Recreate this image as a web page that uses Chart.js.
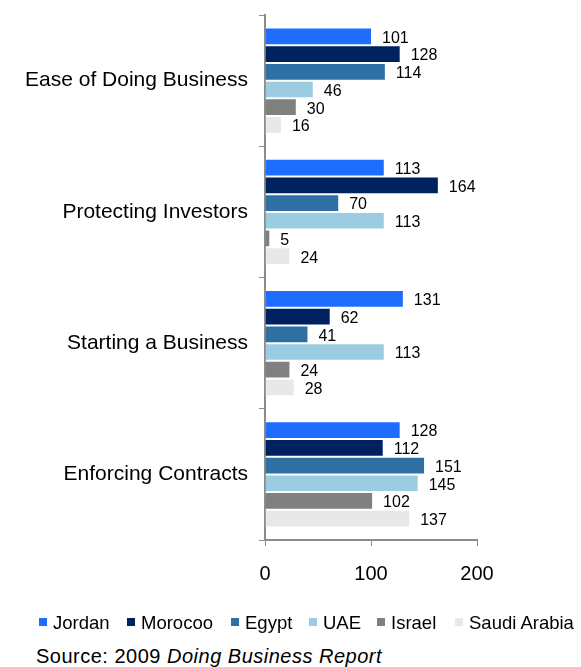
<!DOCTYPE html>
<html>
<head>
<meta charset="utf-8">
<script src="https://cdn.jsdelivr.net/npm/chart.js@4.4.0/dist/chart.umd.min.js"></script>
<style>
  html, body { margin: 0; padding: 0; background: #fff; }
  #wrap { position: relative; width: 581px; height: 667px; overflow: hidden; }
  #chart { position: absolute; left: 0; top: 0; }
  .txt { font-family: "Liberation Sans", Arial, sans-serif; color: #000; }
  #legend { position: absolute; left: 0; top: 611px; width: 581px; height: 22px; font-size: 18.5px; line-height: 19px; }
  #legend .item { position: absolute; top: 2px; white-space: nowrap; }
  #legend .box { display: inline-block; width: 8px; height: 8px; margin-right: 6px; vertical-align: 3px; }
  #source { position: absolute; left: 36px; top: 646px; font-size: 20px; line-height: 20px; letter-spacing: 0.5px; white-space: nowrap; }
</style>
</head>
<body>
<div id="wrap">
  <canvas id="chart" width="581" height="620"></canvas>
  <div id="legend" class="txt"></div>
  <div id="source" class="txt">Source: 2009 <i>Doing Business Report</i></div>
</div>
<script>
// 데이터
const categories = ["Ease of Doing Business", "Protecting Investors", "Starting a Business", "Enforcing Contracts"];
const countries = ["Jordan", "Morocoo", "Egypt", "UAE", "Israel", "Saudi Arabia"];
const jordan = [101, 113, 131, 128];
const morocco = [128, 164, 62, 112];
const egypt = [114, 70, 41, 151];
const uae = [46, 113, 113, 145];
const israel = [30, 5, 24, 102];
const saudi = [16, 24, 28, 137];
const xTicks = [0, 100, 200];

const seriesValues = [jordan, morocco, egypt, uae, israel, saudi];
const seriesColors = ["#1f6dff", "#00215f", "#2f70a4", "#9bcce2", "#808080", "#e8e8e8"];
const legendLeft = [39, 127, 231, 309, 377, 455]; // 범례 위치

const FONT = "'Liberation Sans', Arial, sans-serif";

// 막대 오른쪽 값 표시
const valueLabels = {
  id: "valueLabels",
  afterDatasetsDraw(chart) {
    const ctx = chart.ctx;
    ctx.save();
    ctx.font = "16px " + FONT;
    ctx.fillStyle = "#000";
    ctx.textAlign = "left";
    ctx.textBaseline = "middle";
    chart.data.datasets.forEach((ds, i) => {
      chart.getDatasetMeta(i).data.forEach((bar, j) => {
        ctx.fillText(String(ds.data[j]), bar.x + 10, bar.y + 2);
      });
    });
    ctx.restore();
  },
};

const datasets = countries.map((name, i) => ({
  label: name,
  data: seriesValues[i],
  backgroundColor: seriesColors[i],
  borderColor: "rgba(255,255,255,0.85)",
  borderWidth: 1,
  categoryPercentage: 0.81,
  barPercentage: 1.0,
}));

new Chart(document.getElementById("chart"), {
  type: "bar",
  data: { labels: categories, datasets: datasets },
  options: {
    indexAxis: "y",
    responsive: false,
    animation: false,
    layout: { padding: { top: 15, right: 104, left: 0, bottom: 18 } },
    scales: {
      x: {
        min: 0,
        max: 200,
        afterBuildTicks: (scale) => {
          scale.ticks = xTicks.map((v) => ({ value: v }));
        },
        grid: { drawOnChartArea: false, color: "#8c8c8c", tickLength: 6, lineWidth: 1 },
        border: { color: "#8c8c8c", width: 2 },
        ticks: { color: "#000", font: { family: FONT, size: 20 }, padding: 16 },
      },
      y: {
        afterFit: (scale) => {
          scale.width = 265;
          scale.paddingTop = 0;
          scale.paddingBottom = 0;
        },
        grid: { drawOnChartArea: false, color: "#8c8c8c", tickLength: 6, lineWidth: 1, offset: true },
        border: { color: "#8c8c8c", width: 2 },
        ticks: { color: "#000", font: { family: FONT, size: 21 }, padding: 11 },
      },
    },
    plugins: {
      legend: { display: false },
      tooltip: { enabled: false },
    },
  },
  plugins: [valueLabels],
});

// HTML 범례
const legendEl = document.getElementById("legend");
countries.forEach((name, i) => {
  const item = document.createElement("span");
  item.className = "item";
  item.style.left = legendLeft[i] + "px";
  item.innerHTML = `<span class="box" style="background:${seriesColors[i]}"></span>${name}`;
  legendEl.appendChild(item);
});
</script>
</body>
</html>
